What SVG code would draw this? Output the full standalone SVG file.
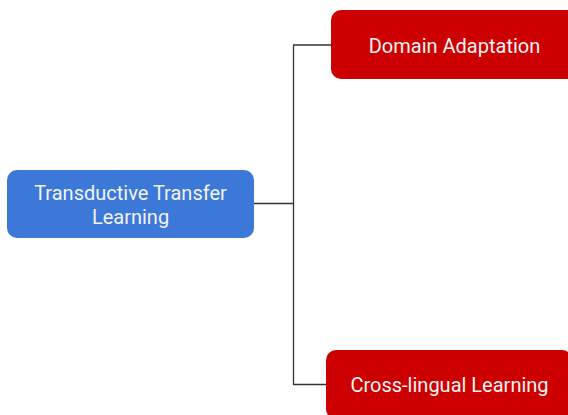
<svg xmlns="http://www.w3.org/2000/svg" width="568" height="415" viewBox="0 0 568 415">
<style>
.lbl{font-family:Roboto,"Liberation Sans",sans-serif;font-size:20px;fill:#f3f3f3;text-anchor:middle}
.blue{fill:#3c78d8}
.red{fill:#cc0000}
.conn{fill:none;stroke:#333;stroke-width:1.3}
</style>
<rect width="568" height="415" fill="#fff"/>
<g id="connectors">
<path class="conn" d="M254,203.5H293.5M293.5,45V384.5M293,45H331M293,384.5H326"/>
</g>
<g id="node-transductive">
<rect class="blue" x="7" y="170" width="247" height="68" rx="10"/>
<text class="lbl" x="130.5" y="200">Transductive Transfer</text>
<text class="lbl" x="130.5" y="224">Learning</text>
</g>
<g id="node-domain">
<rect class="red" x="331" y="10" width="246" height="69" rx="10"/>
<text class="lbl" x="454.5" y="53">Domain Adaptation</text>
</g>
<g id="node-crosslingual">
<rect class="red" x="326" y="350" width="246" height="69" rx="10"/>
<text class="lbl" x="449.5" y="392">Cross-lingual Learning</text>
</g>
</svg>
